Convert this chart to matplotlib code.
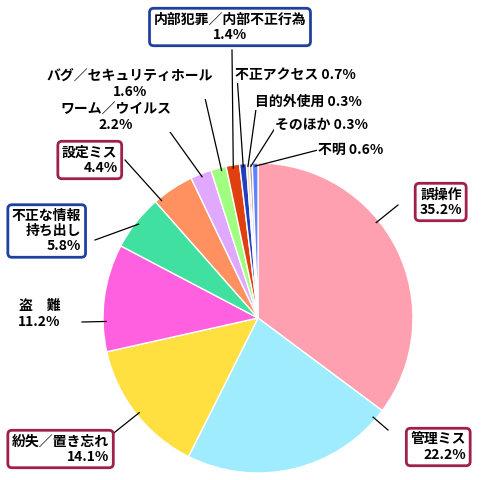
import matplotlib
matplotlib.use("Agg")
import matplotlib.pyplot as plt
import numpy as np

plt.rcParams['font.family'] = ['Noto Sans CJK JP', 'DejaVu Sans']

labels = ["誤操作", "管理ミス", "紛失／置き忘れ", "盗　難", "不正な情報\n持ち出し", "設定ミス",
          "ワーム／ウイルス", "バグ／セキュリティホール", "内部犯罪／内部不正行為", "不正アクセス",
          "目的外使用", "そのほか", "不明"]
values = [35.2, 22.2, 14.1, 11.2, 5.8, 4.4, 2.2, 1.6, 1.4, 0.7, 0.3, 0.3, 0.6]
colors = ["#ffa0b0", "#a0ecff", "#ffe040", "#ff60e0", "#40e0a0", "#ff9060",
          "#e0a8ff", "#a0ff80", "#e04010", "#2040c0", "#ffd0a0", "#a0a0a0", "#6080ff"]

W, H = 490, 480
fig = plt.figure(figsize=(4.9, 4.8), dpi=100)
ax = fig.add_axes([0, 0, 1, 1])
ax.set_xlim(0, W); ax.set_ylim(0, H); ax.set_aspect('equal'); ax.axis('off')
cx, cy, R = 258, H - 318, 155
wedges, _ = ax.pie(values, colors=colors, startangle=90, counterclock=False,
                   center=(cx, cy), radius=R, wedgeprops=dict(edgecolor='white', linewidth=1))
ax.set_xlim(0, W); ax.set_ylim(0, H)

maroon, blue = "#a0204a", "#2040a0"
specs = [
    (462, 202, 'right', maroon, 398, 205),
    (466, 447, 'right', maroon, 388, 430),
    (12, 449, 'left', maroon, 105, 440),
    (18, 314, 'left', None, 82, 322),
    (12, 231, 'left', blue, 95, 240),
    (62, 160, 'left', maroon, 125, 160),
    (116, 117, 'center', None, 165, 125),
    (130, 84, 'center', None, 205, 98),
    (230, 27, 'center', blue, 232, 50),
    (235, 75, 'left', None, 237, 75),
    (255, 102, 'left', None, 257, 102),
    (275, 125, 'left', None, 277, 125),
    (318, 150, 'left', None, 318, 150),
]
cum = 0
for lab, v, (tx, ty, ha, bc, lx, ly) in zip(labels, values, specs):
    a0 = 90 - cum * 3.6
    a1 = 90 - (cum + v) * 3.6
    cum += v
    # angle towards label end, clamped into wedge range
    ang = np.rad2deg(np.arctan2((H - ly) - cy, lx - cx))
    while ang > a0: ang -= 360
    while ang < a1: ang += 360
    if ang > a0: ang = (a0 + a1) / 2
    pad = min(2.0, (a0 - a1) / 2)
    ang = min(max(ang, a1 + pad), a0 - pad)
    a = np.deg2rad(ang)
    ex, ey = cx + R * 0.98 * np.cos(a), cy + R * 0.98 * np.sin(a)
    ax.plot([ex, lx], [ey, H - ly], color='black', lw=0.9, zorder=3)
    if lab in ("不正アクセス", "目的外使用", "そのほか", "不明"):
        ax.text(tx, H - ty, f"{lab} {v}%", ha='left', va='center', fontsize=10, fontweight='bold',
                zorder=5, bbox=dict(facecolor='white', edgecolor='none', pad=0.5))
        continue
    txt = f"{lab}\n{v}%"
    kw = dict(ha=ha, va='center', fontsize=10, fontweight='bold', zorder=5, multialignment='right',
              linespacing=1.1)
    if lab == "内部犯罪／内部不正行為" or lab.startswith("ワーム") or lab.startswith("バグ"):
        kw['multialignment'] = 'center'
    if bc:
        kw['bbox'] = dict(boxstyle='round,pad=0.3,rounding_size=0.3', facecolor='white', edgecolor=bc, linewidth=2)
    else:
        kw['bbox'] = dict(facecolor='white', edgecolor='none', pad=0.5)
    ax.text(tx, H - ty, txt, **kw)

fig.savefig("out.png", dpi=100)
